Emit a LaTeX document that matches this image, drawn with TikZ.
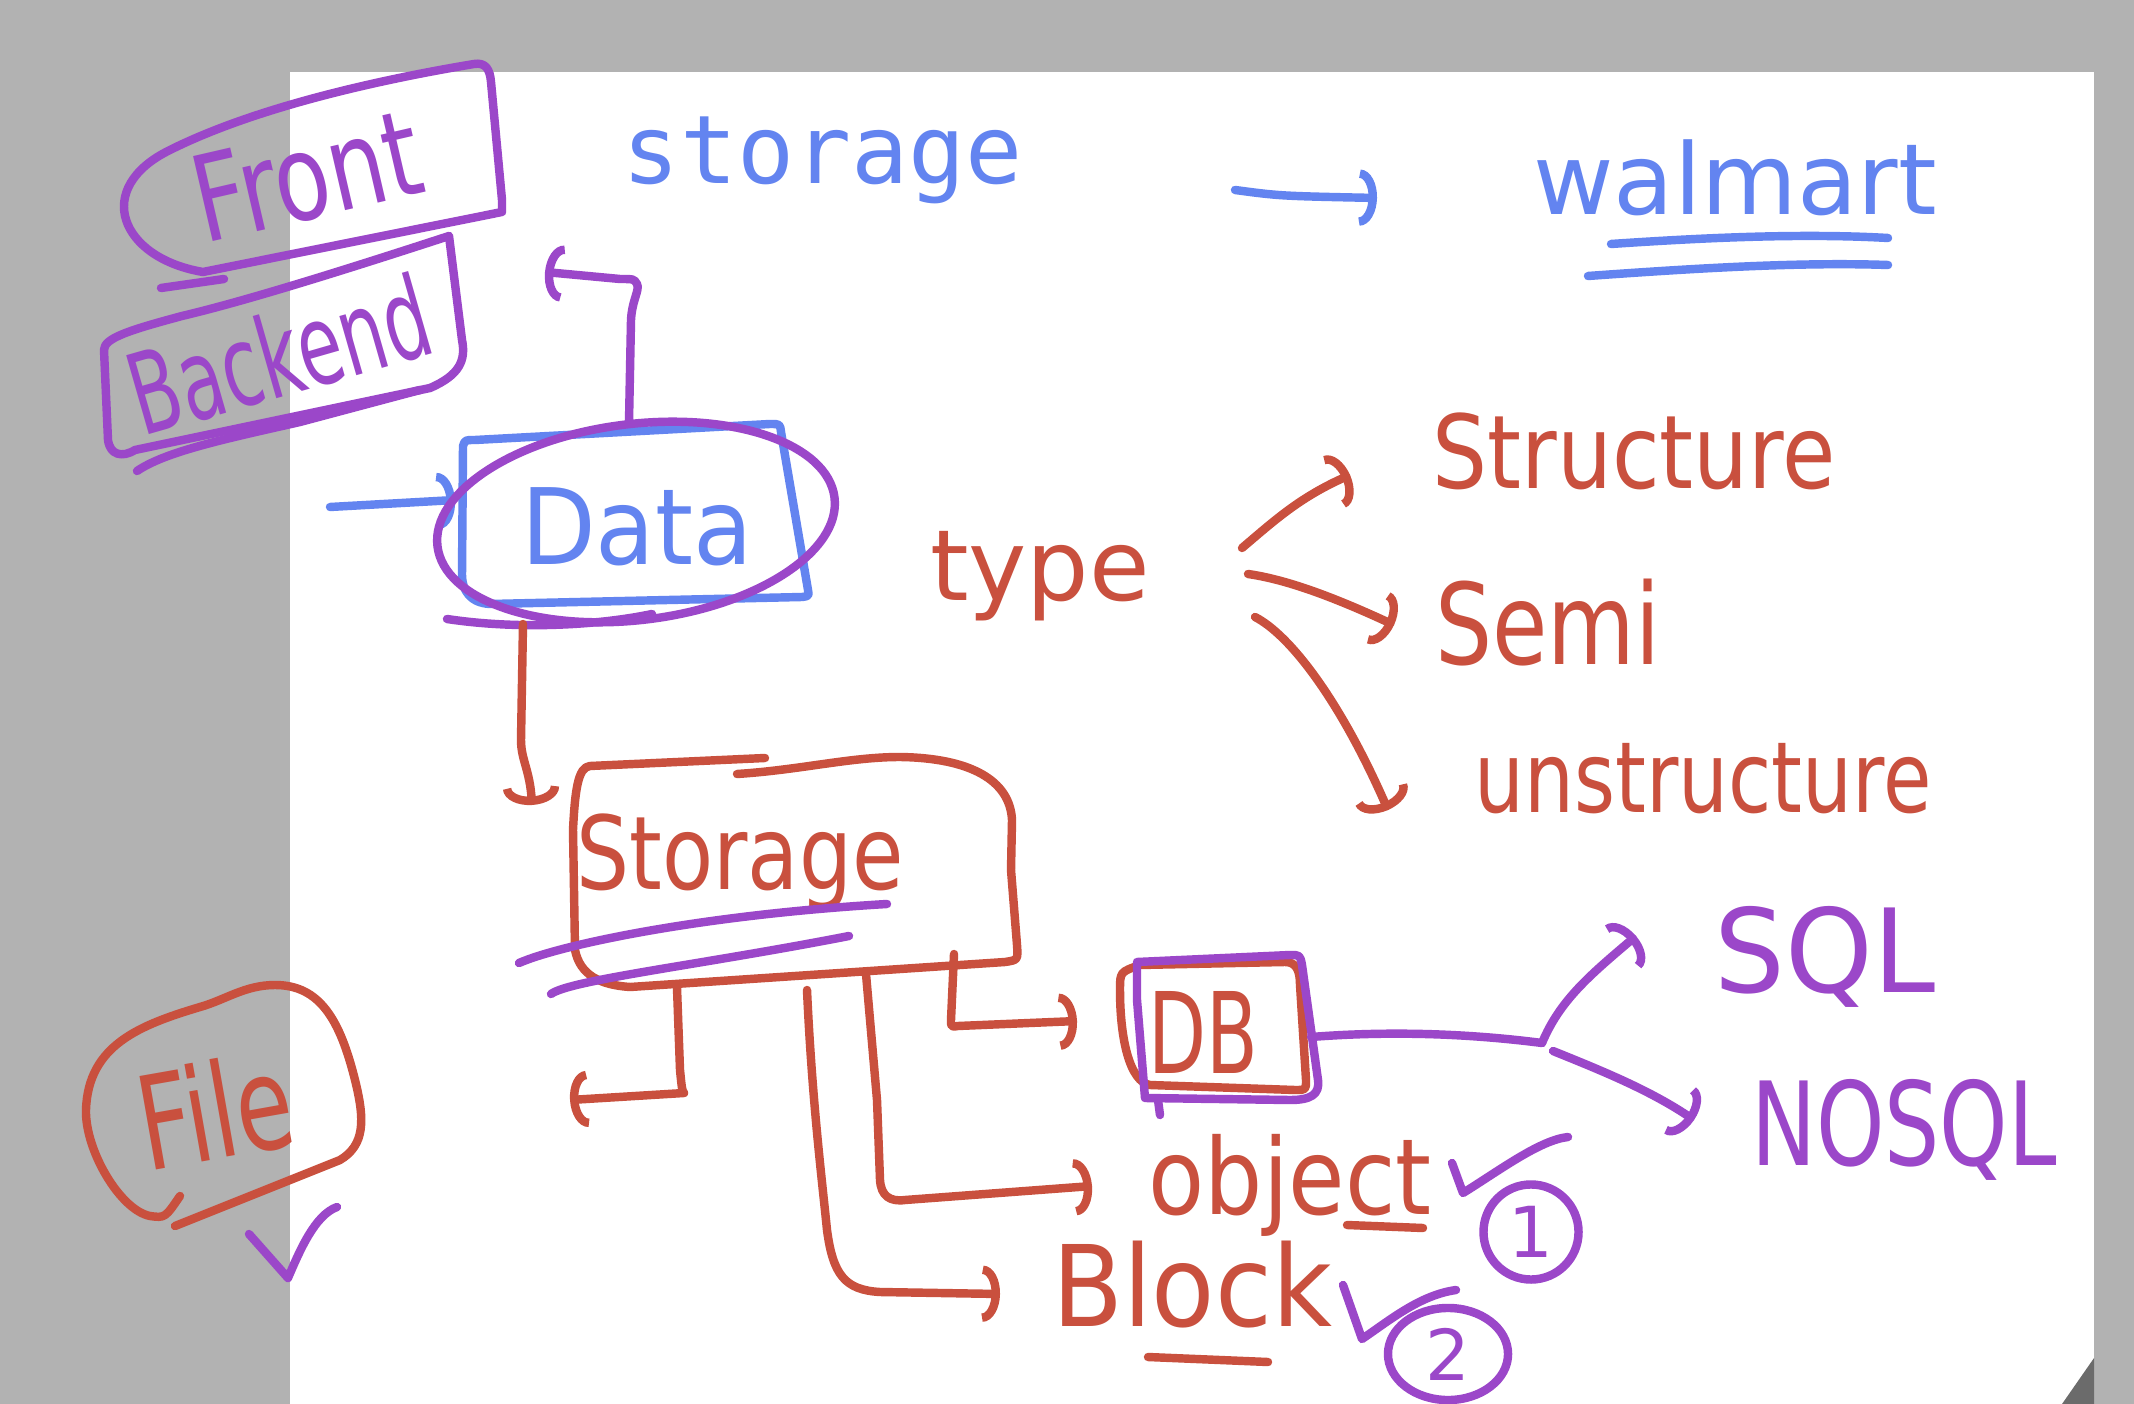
\documentclass[tikz,border=0pt]{standalone}
\usepackage{fontspec}
\setmainfont{DejaVu Sans}
\newfontfamily\typedfont{DejaVu Sans Mono}
\usetikzlibrary{arrows.meta,shapes.geometric}
\definecolor{penblue}{HTML}{6384F0}
\definecolor{penpurple}{HTML}{9B47C9}
\definecolor{penred}{HTML}{C9503E}
\definecolor{board}{HTML}{B2B2B2}
\tikzset{
  ink/.style={line width=2.4pt, line cap=round, line join=round},
  penarrow/.style={ink, -{Arc Barb[length=5pt,width=16pt]}},
  hand/.style={font=\fontsize{#1}{#1}\selectfont, inner sep=0pt},
  ring/.style={ellipse, draw=penpurple, line width=2.4pt, inner sep=0pt, text=penpurple, font=\fontsize{20}{20}\selectfont}
}
\begin{document}
\begin{tikzpicture}[x=0.01cm, y=-0.01cm]
	\useasboundingbox (0,0) rectangle (2134,1404);
	\fill[board] (0,0) rectangle (2134,1404);
	\fill[white] (290,72) rectangle (2094,1404);
	\fill[board!60!black] (2094,1358) -- (2094,1404) -- (2062,1404) -- cycle;
	% heading
	\node[font=\typedfont\fontsize{27}{27}\selectfont, text=penblue, inner sep=0pt] (title) at (823,160) {storage};
	\node[hand=28, text=penblue] (walmart) at (1735,178) {walmart};
	\draw[ink, penblue] (1611,244) .. controls (1700,238) and (1800,233) .. (1888,238);
	\draw[ink, penblue] (1588,276) .. controls (1700,268) and (1800,262) .. (1888,265);
	\coordinate (toW) at (1377,198);
	\draw[penarrow, penblue] (1235,190) .. controls (1280,196) .. (toW);
	% front / backend
	\node[hand=34, text=penpurple, rotate=13, xscale=.76] (front) at (307,176) {Front};
	\draw[ink, penpurple] (502,212) -- (203,272) .. controls (120,258) and (92,188) .. (170,150) .. controls (260,105) and (390,78) .. (474,64) .. controls (486,62) and (490,70) .. (491,82) -- (502,200) -- cycle;
	\draw[ink, penpurple] (161,288) -- (224,279);
	\node[hand=32, text=penpurple, rotate=16, xscale=.64] (backend) at (279,354) {Backend};
	\draw[ink, penpurple] (449,236) .. controls (360,265) and (250,300) .. (182,316) .. controls (130,330) and (104,338) .. (104,350) -- (108,440) .. controls (110,455) and (122,458) .. (135,450) -- (430,388) .. controls (460,375) and (466,360) .. (462,340) -- (449,236);
	\draw[ink, penpurple] (137,471) .. controls (165,452) and (220,440) .. (300,422) -- (420,390);
	% data
	\node[hand=30, text=penblue, xscale=.92] (data) at (637,527) {Data};
	\draw[ink, penblue] (463,446) .. controls (465,440) .. (475,440) -- (770,424) .. controls (780,424) .. (781,432) -- (808,590) .. controls (809,596) .. (802,597) -- (490,604) .. controls (470,603) and (462,590) .. (462,575) -- cycle;
	\draw[penarrow, penblue] (330,507) -- (455,500);
	\draw[ink, penpurple, rotate around={7:(636,522)}] (636,522) ellipse (200 and 98);
	\draw[ink, penpurple] (447,619) .. controls (520,630) and (600,625) .. (652,614);
	\coordinate (up) at (545,272);
	\draw[penarrow, penpurple] (629,422) -- (631,320) .. controls (632,300) and (640,290) .. (637,284) .. controls (634,279) .. (620,279) -- (up);
	% storage
	\draw[penarrow, penred] (523,624) -- (521,740) .. controls (521,760) and (530,770) .. (532,805);
	\node[hand=29, text=penred, xscale=.82] (storage) at (740,862) {Storage};
	\draw[ink, penred] (765,758) -- (590,766) .. controls (578,767) and (575,790) .. (573,830) -- (575,950) .. controls (580,975) and (600,985) .. (630,987) -- (1005,962) .. controls (1018,960) .. (1017,945) -- (1011,870) -- (1012,820) .. controls (1010,780) and (970,758) .. (900,757) .. controls (850,757) and (800,770) .. (737,774);
	\draw[ink, penpurple] (519,963) .. controls (560,945) and (700,915) .. (887,904);
	\draw[ink, penpurple] (551,994) .. controls (570,980) and (700,965) .. (849,936);
	\draw[penarrow, penred] (677,988) -- (680,1070) .. controls (682,1090) .. (684,1093) -- (570,1100);
	\draw[penarrow, penred] (807,990) .. controls (812,1100) and (822,1180) .. (827,1230) .. controls (833,1275) and (845,1290) .. (880,1292) -- (1000,1294);
	\draw[penarrow, penred] (866,974) -- (877,1100) -- (880,1180) .. controls (881,1196) and (890,1202) .. (905,1200) -- (1092,1186);
	\draw[penarrow, penred] (954,954) -- (951,1020) .. controls (951,1027) .. (958,1026) -- (1077,1021);
	% type
	\node[hand=28, text=penred] (type) at (1040,576) {type};
	\draw[penarrow, penred] (1242,548) .. controls (1275,520) and (1300,497) .. (1350,475);
	\draw[penarrow, penred] (1248,574) .. controls (1290,580) and (1340,600) .. (1394,625);
	\draw[penarrow, penred] (1255,617) .. controls (1290,635) and (1340,700) .. (1388,810);
	\node[hand=29, text=penred, xscale=.85] (structure) at (1634,451) {Structure};
	\node[hand=32, text=penred, xscale=.8] (semi) at (1548,623) {Semi};
	\node[hand=28, text=penred, xscale=.8] (unstructure) at (1703,779) {unstructure};
	% DB
	\node[hand=32, text=penred, xscale=.67] (db) at (1203,1032) {DB};
	\draw[ink, penred] (1140,965) -- (1285,962) .. controls (1296,962) and (1300,970) .. (1300,985) -- (1306,1080) .. controls (1306,1090) .. (1295,1090) -- (1150,1085) .. controls (1130,1082) and (1120,1040) .. (1120,990) .. controls (1120,972) .. (1140,965) -- cycle;
	\draw[ink, penpurple] (1137,962) -- (1290,955) .. controls (1300,955) .. (1302,965) -- (1318,1080) .. controls (1320,1095) and (1310,1100) .. (1290,1100) -- (1145,1098) -- (1137,1000) -- cycle;
	\draw[ink, penpurple] (1158,1100) -- (1160,1115);
	\coordinate (fork) at (1542,1043);
	\draw[ink, penpurple] (1311,1037) .. controls (1400,1030) and (1480,1035) .. (fork);
	\draw[penarrow, penpurple] (fork) .. controls (1560,1000) and (1590,975) .. (1636,936);
	\draw[penarrow, penpurple] (1553,1051) .. controls (1600,1070) and (1650,1090) .. (1694,1120);
	\node[hand=33, text=penpurple, xscale=.96] (sql) at (1825,957) {SQL};
	\node[hand=33, text=penpurple, xscale=.75] (nosql) at (1904,1130) {NOSQL};
	% object / block
	\node[hand=30, text=penred, xscale=.87] (object) at (1290,1185) {object};
	\draw[ink, penred] (1347,1225) -- (1423,1228);
	\node[hand=32, text=penred, xscale=.92] (block) at (1192,1285) {Block};
	\draw[ink, penred] (1148,1357) -- (1268,1362);
	\draw[ink, penpurple] (1452,1163) -- (1463,1193) .. controls (1500,1170) and (1540,1140) .. (1568,1137);
	\node[ring, minimum width=0.95cm, minimum height=0.95cm] (one) at (1531,1232) {1};
	\draw[ink, penpurple] (1343,1285) -- (1362,1339) .. controls (1390,1320) and (1420,1295) .. (1456,1290);
	\node[ring, minimum width=1.2cm, minimum height=0.92cm] (two) at (1448,1354) {2};
	% file
	\node[hand=37, text=penred, rotate=10, xscale=.71] (file) at (215,1110) {File};
	\draw[ink, penred] (175,1226) -- (340,1160) .. controls (365,1145) and (365,1120) .. (355,1080) .. controls (340,1020) and (320,985) .. (275,985) .. controls (245,985) and (225,1000) .. (200,1007) .. controls (140,1025) and (88,1045) .. (86,1110) .. controls (85,1150) and (120,1210) .. (150,1216) .. controls (165,1218) .. (180,1196);
	\draw[ink, penpurple] (249,1234) -- (288,1278) .. controls (300,1250) and (315,1215) .. (337,1207);
\end{tikzpicture}
\end{document}
